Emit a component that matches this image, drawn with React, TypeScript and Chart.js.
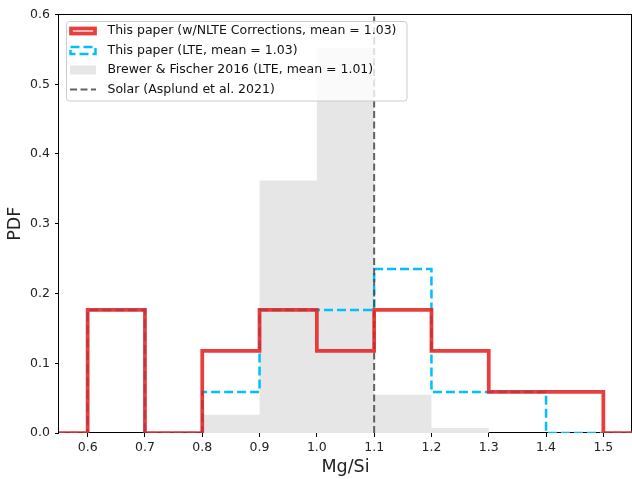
import { useEffect, useRef } from "react";
import { Chart, registerables } from "chart.js";

Chart.register(...registerables);

// ---- data ----
const binEdges = [0.5, 0.6, 0.7, 0.8, 0.9, 1.0, 1.1, 1.2, 1.3, 1.4, 1.5, 1.6];
const nlteDensity = [0, 0.1765, 0, 0.1176, 0.1765, 0.1176, 0.1765, 0.1176, 0.0588, 0.0588, 0];
const lteDensity = [0, 0.1765, 0, 0.0588, 0.1765, 0.1765, 0.2353, 0.0588, 0.0588, 0, 0];
const brewerDensity = [0, 0, 0, 0.026, 0.362, 0.552, 0.055, 0.007, 0, 0, 0];
const solarMgSi = 1.1;
const xTicks = [0.6, 0.7, 0.8, 0.9, 1.0, 1.1, 1.2, 1.3, 1.4, 1.5];
const yTicks = [0.0, 0.1, 0.2, 0.3, 0.4, 0.5, 0.6];
const xRange = [0.55, 1.55];
const yRange = [0, 0.6];
const seriesLabels = [
  "This paper (w/NLTE Corrections, mean = 1.03)",
  "This paper (LTE, mean = 1.03)",
  "Brewer & Fischer 2016 (LTE, mean = 1.01)",
  "Solar (Asplund et al. 2021)",
];
const xTitle = "Mg/Si";
const yTitle = "PDF";

const FONT = "'DejaVu Sans', sans-serif";

function stepPoints(edges: number[], vals: number[]) {
  // point i at left edge of bin i carries that bin's value; final point closes the last bin
  const pts = [{ x: edges[0], y: 0 }];
  vals.forEach((v, i) => {
    pts.push({ x: edges[i], y: v });
    pts.push({ x: edges[i + 1], y: v });
  });
  return pts;
}

const framePlugin = {
  id: "frame",
  beforeDatasetsDraw(chart: any) {
    const { ctx, chartArea } = chart;
    ctx.save();
    ctx.strokeStyle = "#000";
    ctx.lineWidth = 1;
    const l = Math.round(chartArea.left) - 0.5;
    const t = Math.round(chartArea.top) - 0.5;
    const r = Math.round(chartArea.right) - 0.5;
    const b = Math.round(chartArea.bottom) - 0.5;
    ctx.strokeRect(l, t, r - l, b - t);
    ctx.restore();
  },
};

const legendPlugin = {
  id: "mplLegend",
  afterDraw(chart: any) {
    const { ctx } = chart;
    const ds = chart.data.datasets;
    const bx = 66.5, by = 21.5, bw = 340.5, bh = 79.5;
    ctx.save();
    ctx.beginPath();
    (ctx as any).roundRect(bx, by, bw, bh, 3);
    ctx.fillStyle = "rgba(255,255,255,0.8)";
    ctx.fill();
    ctx.strokeStyle = "#cccccc";
    ctx.lineWidth = 1;
    ctx.stroke();

    const rows = [31, 50.5, 70, 89.5];
    const hx = 70, hw = 26;
    ctx.setLineDash([]);
    ctx.strokeStyle = ds[0].borderColor;
    ctx.lineWidth = ds[0].borderWidth;
    ctx.strokeRect(hx + 1, rows[0] - 2.5, hw - 2, 5);
    ctx.setLineDash(ds[1].borderDash);
    ctx.strokeStyle = ds[1].borderColor;
    ctx.lineWidth = ds[1].borderWidth;
    ctx.strokeRect(hx + 0.5, rows[1] - 3.5, hw - 1, 7);
    ctx.setLineDash([]);
    ctx.fillStyle = ds[2].backgroundColor;
    ctx.fillRect(hx, rows[2] - 4.5, hw, 9);
    ctx.setLineDash(ds[3].borderDash);
    ctx.strokeStyle = ds[3].borderColor;
    ctx.lineWidth = ds[3].borderWidth;
    ctx.beginPath();
    ctx.moveTo(hx, rows[3]);
    ctx.lineTo(hx + hw, rows[3]);
    ctx.stroke();
    ctx.setLineDash([]);

    ctx.fillStyle = "#111";
    ctx.font = `12.5px ${FONT}`;
    ctx.textBaseline = "middle";
    ctx.textAlign = "left";
    seriesLabels.forEach((s, i) => ctx.fillText(s, 107.5, rows[i]));
    ctx.restore();
  },
};

export default function App() {
  const ref = useRef<HTMLCanvasElement | null>(null);
  useEffect(() => {
    if (!ref.current) return;
    const chart = new Chart(ref.current, {
      type: "line",
      data: {
        datasets: [
          {
            label: seriesLabels[0],
            data: stepPoints(binEdges, nlteDensity),
            borderColor: "rgba(228,28,28,0.85)",
            borderWidth: 3.75,
            borderJoinStyle: "miter",
            pointRadius: 0,
            fill: false,
            order: 0,
          },
          {
            label: seriesLabels[1],
            data: stepPoints(binEdges, lteDensity),
            borderColor: "#00bfff",
            borderWidth: 2.5,
            borderDash: [9, 4],
            borderJoinStyle: "miter",
            pointRadius: 0,
            fill: false,
            order: 2,
          },
          {
            label: seriesLabels[2],
            data: stepPoints(binEdges, brewerDensity),
            borderWidth: 0,
            borderColor: "rgba(0,0,0,0)",
            backgroundColor: "#e6e6e6",
            pointRadius: 0,
            fill: "origin",
            order: 3,
          },
          {
            label: seriesLabels[3],
            data: [
              { x: solarMgSi, y: yRange[0] },
              { x: solarMgSi, y: yRange[1] },
            ],
            borderColor: "rgba(70,70,70,0.85)",
            borderWidth: 2,
            borderDash: [7, 3.5],
            pointRadius: 0,
            fill: false,
            order: 1,
          },
        ] as any,
      },
      options: {
        animation: false,
        responsive: false,
        events: [],
        layout: { padding: { left: 0, top: 14.5, right: -1, bottom: 0 } },
        plugins: {
          legend: { display: false },
          tooltip: { enabled: false },
        },
        scales: {
          x: {
            type: "linear",
            min: xRange[0],
            max: xRange[1],
            afterBuildTicks: (s: any) => {
              s.ticks = xTicks.map((v) => ({ value: v }));
            },
            afterFit: (s: any) => {
              s.height = 46;
            },
            ticks: {
              callback: (v: any) => Number(v).toFixed(1),
              color: "#222",
              font: { family: FONT, size: 12.5 },
              padding: 3,
              maxRotation: 0,
              autoSkip: false,
            },
            grid: {
              display: true,
              drawOnChartArea: false,
              drawTicks: true,
              tickLength: 4,
              tickColor: "#000",
            },
            border: { display: false },
            title: {
              display: true,
              text: xTitle,
              color: "#222",
              font: { family: FONT, size: 17.5 },
              padding: { top: 0, bottom: 1.5 },
            },
          },
          y: {
            type: "linear",
            min: yRange[0],
            max: yRange[1],
            afterBuildTicks: (s: any) => {
              s.ticks = yTicks.map((v) => ({ value: v }));
            },
            afterFit: (s: any) => {
              s.width = 59;
            },
            ticks: {
              callback: (v: any) => Number(v).toFixed(1),
              color: "#222",
              font: { family: FONT, size: 12.5 },
              padding: 5,
              autoSkip: false,
            },
            grid: {
              display: true,
              drawOnChartArea: false,
              drawTicks: true,
              tickLength: 4,
              tickColor: "#000",
            },
            border: { display: false },
            title: {
              display: true,
              text: yTitle,
              color: "#222",
              font: { family: FONT, size: 17.5 },
              padding: { top: 4.5, bottom: 0 },
            },
          },
        },
      } as any,
      plugins: [framePlugin, legendPlugin],
    });
    return () => chart.destroy();
  }, []);
  return (
    <div style={{ position: "absolute", left: 0, top: 0, width: 632, height: 479, background: "#fff" }}>
      <canvas ref={ref} width={632} height={479} style={{ display: "block" }} />
    </div>
  );
}
